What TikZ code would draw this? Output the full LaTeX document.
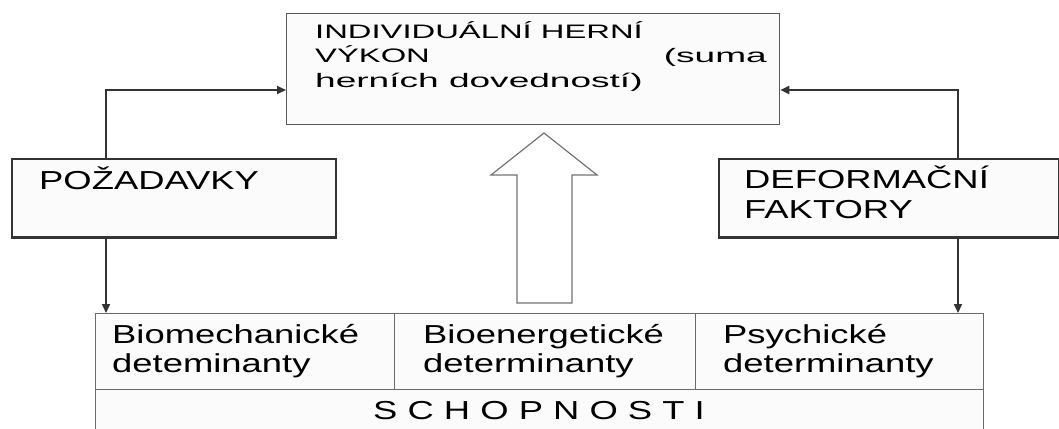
\documentclass[tikz,border=0pt]{standalone}
\usepackage{fontspec}
\setmainfont{Liberation Sans}[FakeStretch=1.4]
\newfontfamily\topfont{Liberation Sans}[FakeStretch=1.68]
\newfontfamily\topfontl{Liberation Sans}[FakeStretch=1.9]
\usetikzlibrary{arrows.meta}
\definecolor{boxfill}{HTML}{FBFBFB}
\definecolor{lineclr}{HTML}{333333}
\definecolor{tabclr}{HTML}{6A6A6A}
\tikzset{
  box/.style={draw=#1, fill=boxfill, rectangle, inner sep=0pt, anchor=north west},
  sidebox/.style={box=lineclr, line width=1.5pt},
  conn/.style={draw=lineclr, line width=1.8pt, -{Triangle[length=9pt,width=8pt]}},
  lbl/.style={anchor=base west, inner sep=0pt, font=\fontsize{26}{30}\selectfont},
  toplbl/.style={anchor=base west, inner sep=0pt, font=\topfont\fontsize{19.5}{24}\selectfont},
  toplbll/.style={anchor=base west, inner sep=0pt, font=\topfontl\fontsize{19.5}{24}\selectfont},
  cell/.style={draw=tabclr, line width=1.3pt, fill=boxfill, rectangle, inner sep=0pt, anchor=north west},
}
\begin{document}
\begin{tikzpicture}[x=1pt,y=-1pt]
\clip (0,0) rectangle (1059,428);
\fill[white] (0,0) rectangle (1059,428);
% top box
\node[box=black!65, line width=1.3pt, minimum width=493pt, minimum height=111pt] (top) at (286,13) {};
\node[toplbl] (t1) at (315,39) {INDIVIDUÁLNÍ HERNÍ};
\node[toplbl] (t2) at (315,63) {VÝKON};
\node[toplbll, anchor=base east] (t2b) at (767,63) {(suma};
\node[toplbll] (t3) at (315,87) {herních dovedností)};
% side boxes
\node[sidebox, minimum width=324pt, minimum height=78pt] (poz) at (11,158) {};
\draw[lineclr, line width=3pt] (poz.south west) -- (poz.south east);
\node[lbl] (pozt) at (39,189) {POŽADAVKY};
\node[sidebox, minimum width=340pt, minimum height=78pt] (def) at (718,158) {};
\draw[lineclr, line width=3pt] (def.south west) -- (def.south east);
\node[lbl] (deft1) at (744,188) {DEFORMAČNÍ};
\node[lbl] (deft2) at (744,218) {FAKTORY};
% table
\node[cell, minimum width=299pt, minimum height=76pt] (c1) at (95,313) {};
\node[cell, minimum width=301pt, minimum height=76pt] (c2) at (394,313) {};
\node[cell, minimum width=288pt, minimum height=76pt] (c3) at (695,313) {};
\node[cell, minimum width=888pt, minimum height=60pt] (sch) at (95,389) {};
\node[lbl] (c1a) at (112,343) {Biomechanické};
\node[lbl] (c1b) at (112,372) {deteminanty};
\node[lbl] (c2a) at (423,343) {Bioenergetické};
\node[lbl] (c2b) at (423,372) {determinanty};
\node[lbl] (c3a) at (723,343) {Psychické};
\node[lbl] (c3b) at (723,372) {determinanty};
\node[lbl, anchor=base] (scht) at (539,419) {S C H O P N O S T I};
% big hollow arrow
\draw[draw=black!55, line width=1.2pt, fill=white, line join=miter]
  (517,303) -- (572,303) -- (572,175) -- (597,175) -- (544,133) -- (491,175) -- (517,175) -- cycle;
% connectors
\coordinate (la) at (106,90);
\coordinate (ra) at (958,90);
\draw[conn] (poz.north -| la) |- (top.west |- la);
\draw[conn] (def.north -| ra) |- (top.east |- ra);
\draw[conn] (poz.south -| la) -- (c1.north -| la);
\draw[conn] (def.south -| ra) -- (c3.north -| ra);
\end{tikzpicture}
\end{document}
